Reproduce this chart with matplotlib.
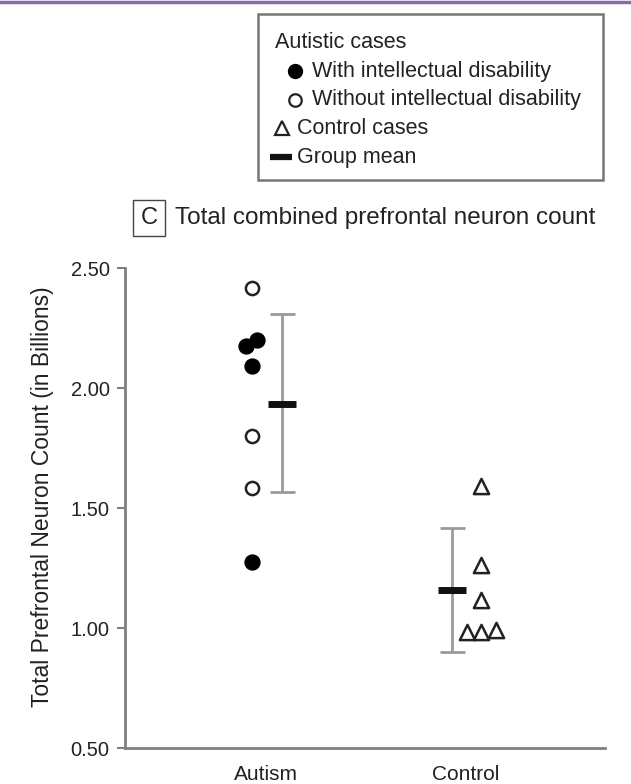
#%%imports
import matplotlib.pyplot as plt
from matplotlib.lines import Line2D
from matplotlib.patches import Rectangle
import numpy as np

plt.rcParams["font.family"] = ["Liberation Sans", "DejaVu Sans"]

#%%data
groups = ["Autism", "Control"]

#autism cases (in billions)
autism_id     = [2.20, 2.175, 2.09, 1.275]            #with intellectual disability
autism_id_dx  = [0.022, -0.026, 0.0, 0.0]
autism_nid    = [2.417, 1.80, 1.583]                  #without intellectual disability
autism_nid_dx = [0.0, 0.0, 0.0]

#control cases
control     = [1.592, 1.2625, 1.117, 0.983, 0.983, 0.99]
control_dx  = [0.0, 0.0, 0.0, -0.061, 0.0, 0.066]

#group means with ranges
means     = [1.933, 1.158]
err_low   = [1.567, 0.900]
err_high  = [2.308, 1.417]
mean_dx   = [0.131, -0.127]
label_dx  = [0.061, -0.066]     #category labels sit slightly toward the middle

yticks = [0.50, 1.00, 1.50, 2.00, 2.50]

#%%plot
W, H = 631, 784
fig = plt.figure(figsize=(W/100, H/100), dpi=100)
ax = fig.add_axes([125/W, 1-748/H, 480/W, 480/H])

txt_c = "#222222"
axis_c = "#808080"

ax.scatter(np.zeros(len(autism_id)) + autism_id_dx, autism_id, s=115, c="black", zorder=3)
ax.scatter(np.zeros(len(autism_nid)) + autism_nid_dx, autism_nid, s=90, facecolors="white",
           edgecolors="#222222", linewidths=1.8, zorder=3)
ax.scatter(np.ones(len(control)) + control_dx, control, s=120, marker="^", facecolors="white",
           edgecolors="#222222", linewidths=1.8, zorder=3)

for i in range(len(groups)):
    x = i + mean_dx[i]
    ax.errorbar([x], [means[i]], yerr=[[means[i]-err_low[i]], [err_high[i]-means[i]]],
                fmt="none", ecolor="#9a9a9a", elinewidth=2, capsize=9, capthick=2, zorder=2)
    ax.plot([x], [means[i]], marker="_", ms=20, mew=5, color="#111111", zorder=4)

ax.set_xlim(-0.555, 1.541)
ax.set_ylim(0.5, 2.5)
ax.set_yticks(yticks)
ax.set_yticklabels([f"{v:.2f}" for v in yticks])
ax.set_xticks([i + d for i, d in enumerate(label_dx)])
ax.set_xticklabels(groups)
ax.tick_params(axis="y", length=6, width=1.5, color=axis_c, labelsize=14.5, labelcolor=txt_c, pad=5)
ax.tick_params(axis="x", length=0, labelsize=15, labelcolor=txt_c, pad=12)
for s in ["top", "right"]:
    ax.spines[s].set_visible(False)
for s in ["left", "bottom"]:
    ax.spines[s].set_color(axis_c)
    ax.spines[s].set_linewidth(2)
fig.text(43/W, 1-497/H, "Total Prefrontal Neuron Count (in Billions)", fontsize=16.5, color=txt_c,
         rotation=90, ha="center", va="center")

#title with boxed panel letter
fig.text(149/W, 1-218/H, "C", fontsize=17, color=txt_c, ha="center", va="center",
         bbox=dict(boxstyle="square,pad=0.3", fc="white", ec="#444444", lw=1))
fig.text(175/W, 1-218/H, "Total combined prefrontal neuron count", fontsize=17.5, color=txt_c,
         ha="left", va="center")

#top purple rule
fig.add_artist(Line2D([0, 1], [1-1.5/H, 1-1.5/H], color="#8a6aa8", lw=2.5))

#legend box drawn by hand
fig.add_artist(Rectangle((258/W, 1-180/H), 345/W, 166/H, fill=False, ec="#777777", lw=1.8))
leg_fs = 15.5
fig.text(275/W, 1-43/H, "Autistic cases", fontsize=leg_fs, color=txt_c, va="center")
fig.add_artist(Line2D([295/W], [1-71/H], marker="o", ms=10, color="black", ls=""))
fig.text(312/W, 1-71/H, "With intellectual disability", fontsize=leg_fs, color=txt_c, va="center")
fig.add_artist(Line2D([295/W], [1-100/H], marker="o", ms=9, mfc="white", mec="#222222", mew=1.6, ls=""))
fig.text(312/W, 1-100/H, "Without intellectual disability", fontsize=leg_fs, color=txt_c, va="center")
fig.add_artist(Line2D([282/W], [1-128/H], marker="^", ms=10, mfc="white", mec="#222222", mew=1.6, ls=""))
fig.text(297/W, 1-128/H, "Control cases", fontsize=leg_fs, color=txt_c, va="center")
fig.add_artist(Line2D([281/W], [1-157/H], marker="_", ms=16, mew=4.5, color="#111111", ls=""))
fig.text(297/W, 1-157/H, "Group mean", fontsize=leg_fs, color=txt_c, va="center")

fig.savefig("out.png", dpi=100)
